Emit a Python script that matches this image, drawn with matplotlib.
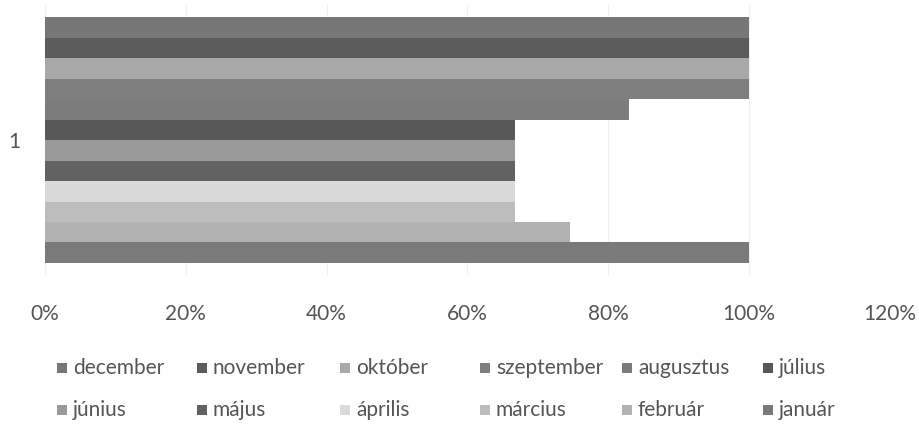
import numpy as np
import matplotlib
matplotlib.use("Agg")
from matplotlib import pyplot as plt
from matplotlib.patches import Rectangle

plt.rcParams['font.family'] = ['Lato', 'DejaVu Sans']

# series, in legend order (top bar first)
months = ['december', 'november', 'október', 'szeptember', 'augusztus', 'július',
          'június', 'május', 'április', 'március', 'február', 'január']
# share for category "1"
values = [1.0, 1.0, 1.0, 1.0, 0.83, 0.667,
          0.667, 0.667, 0.667, 0.667, 0.745, 1.0]
colors = ['#777777', '#5c5c5c', '#a9a9a9', '#7f7f7f', '#7c7c7c', '#585858',
          '#9a9a9a', '#626262', '#dadada', '#bdbdbd', '#b2b2b2', '#7a7a7a']
category = '1'
xticks = [0, 0.2, 0.4, 0.6, 0.8, 1.0, 1.2]

W, H = 920, 425
fig = plt.figure(figsize=(W / 100, H / 100), dpi=100)
ax = fig.add_axes([45 / W, 1 - 275 / H, 845 / W, 270 / H])

n = len(months)
h = 246 / 270 / n
for i, (m, v, c) in enumerate(zip(months, values, colors)):
    y = (n / 2 - i - 0.5) * h
    ax.barh(y, v, height=h, color=c, edgecolor='none', label=m)

ax.set_xlim(0, 1.2)
ax.set_ylim(-0.5, 0.5)
ax.set_xticks(xticks)
ax.set_xticklabels([f'{int(round(t * 100))}%' for t in xticks])
ax.set_yticks([0])
ax.set_yticklabels([category])
ax.tick_params(axis='x', length=0, pad=21, labelsize=15, labelcolor='#555555')
ax.tick_params(axis='y', length=0, pad=18, labelsize=15, labelcolor='#555555')
ax.grid(axis='x', color='#f0f0f0', linewidth=0.8)
ax.set_axisbelow(True)
for s in ax.spines.values():
    s.set_visible(False)

# legend, two rows of six, placed like the original
col_x = [57, 197, 340, 480, 622, 763]
row_y = [368, 410]
for k, (m, c) in enumerate(zip(months, colors)):
    x0 = col_x[k % 6]
    y0 = row_y[k // 6]
    fig.patches.append(Rectangle((x0 / W, 1 - (y0 + 5) / H), 10 / W, 10 / H,
                                 transform=fig.transFigure, facecolor=c,
                                 edgecolor='none'))
    fig.text((x0 + 16) / W, 1 - y0 / H, m, fontsize=15, color='#555555',
             ha='left', va='center')

fig.savefig('out.png', dpi=100)
